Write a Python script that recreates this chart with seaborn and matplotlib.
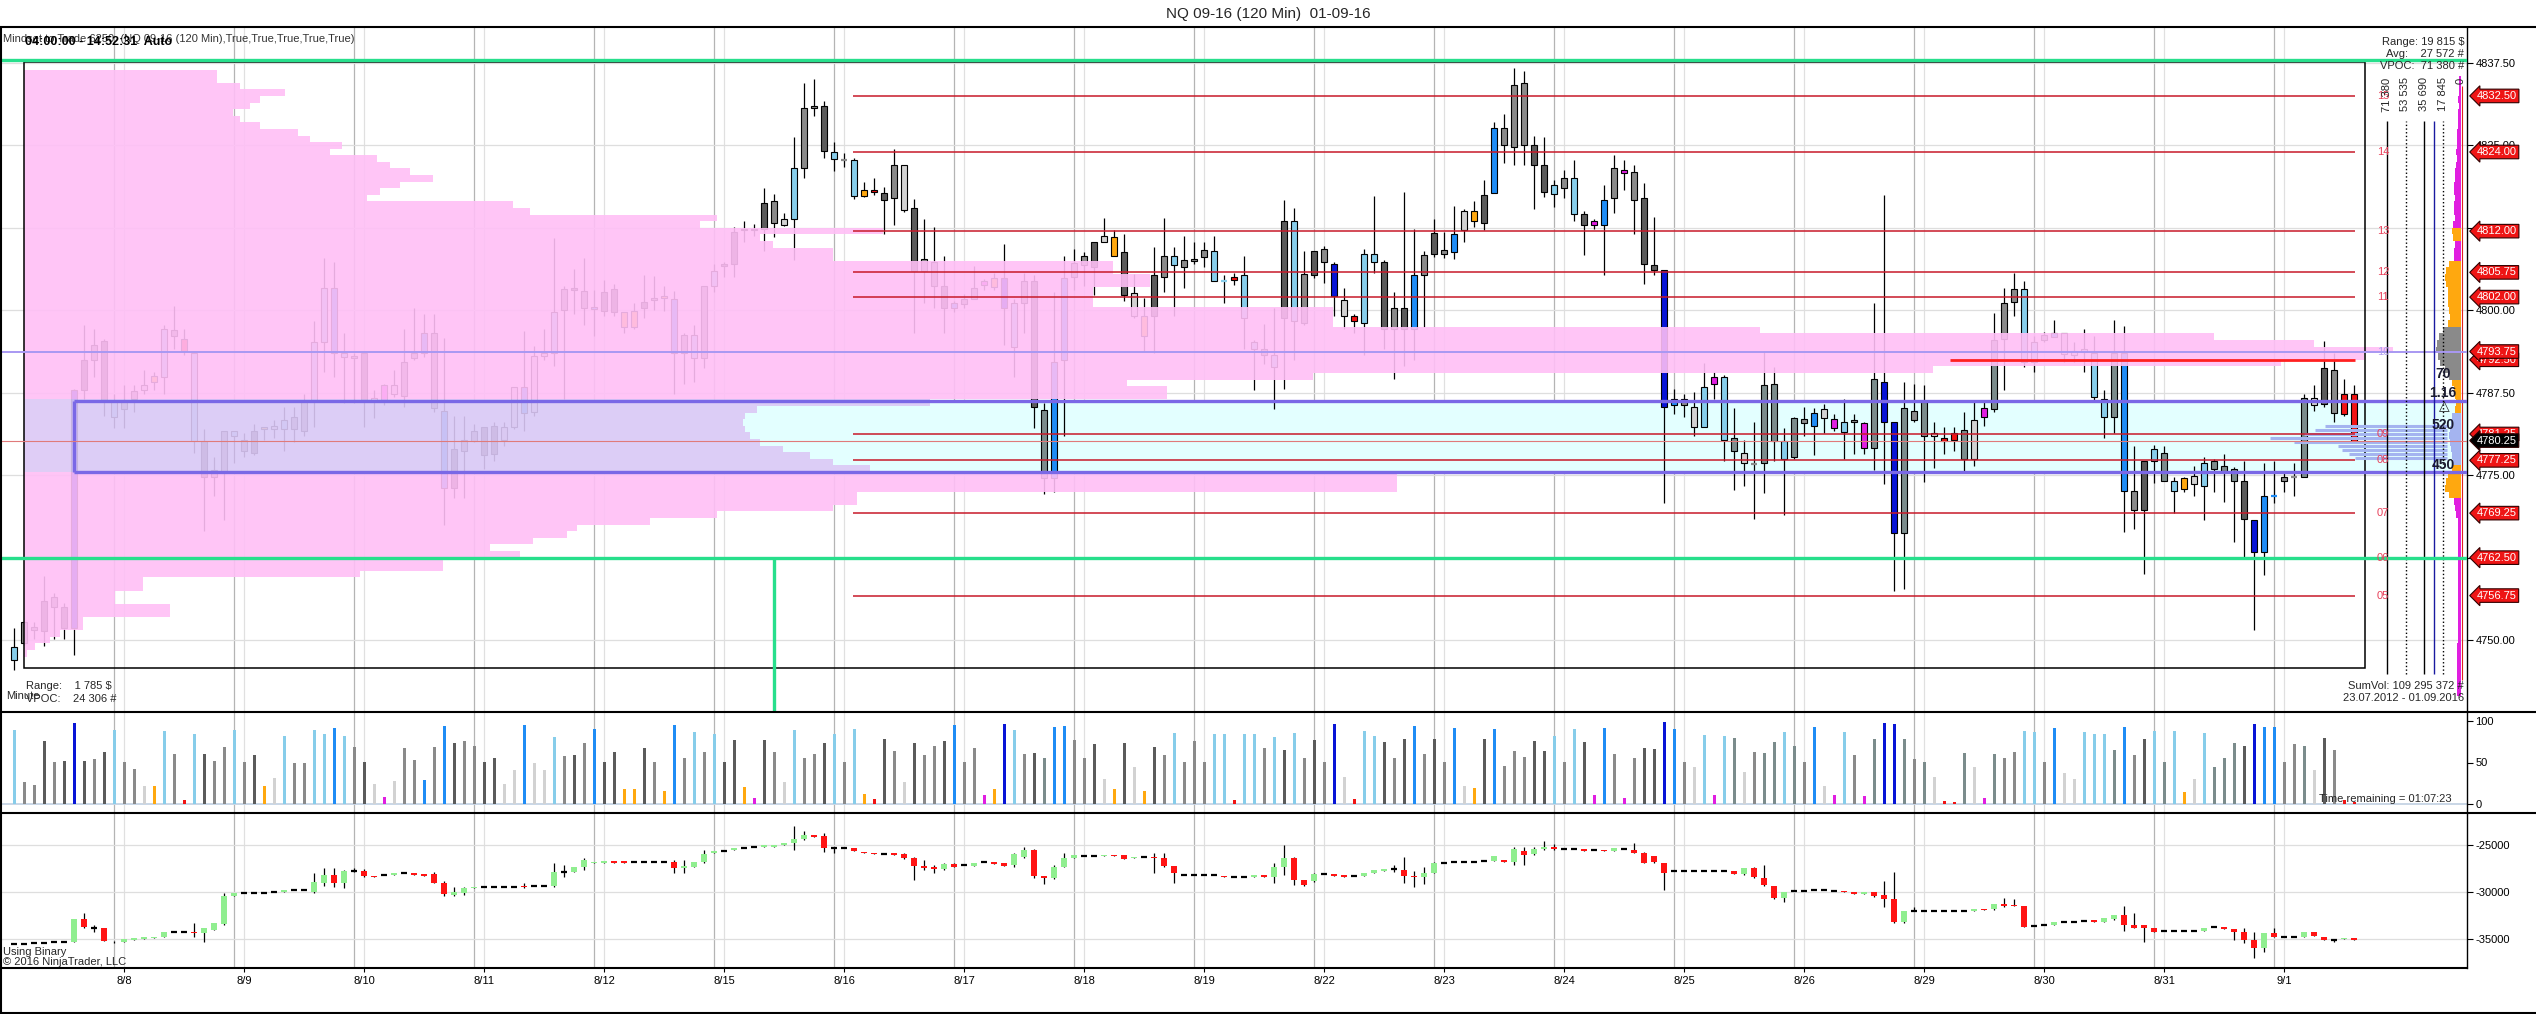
import numpy as np
import matplotlib
matplotlib.use("Agg")
import matplotlib.pyplot as plt
import seaborn as sns
from matplotlib.lines import Line2D
from matplotlib.patches import Rectangle
import matplotlib.transforms as mtrans

sns.set_theme(style="white")
plt.rcParams['font.family'] = ['Liberation Sans', 'DejaVu Sans']
plt.rcParams['axes.unicode_minus'] = False

# ---------------- data ----------------
price_open = [
4747.0,4749.5,4752.0,4751.4,4756.5,4755.0,4751.8,4787.9,4792.5,4795.3,
4786.3,4785.0,4786.6,4787.9,4789.2,4789.9,4797.0,4795.7,4793.5,4780.2,
4774.8,4775.4,4781.7,4780.4,4778.4,4782.0,4782.0,4782.0,4783.8,4781.7,
4786.3,4795.2,4803.4,4793.5,4792.7,4793.5,4786.3,4786.3,4788.7,4787.0,
4792.7,4793.5,4796.5,4784.8,4773.0,4778.7,4780.2,4782.3,4778.2,4782.3,
4782.3,4788.3,4784.6,4793.1,4793.5,4800.1,4803.1,4802.9,4800.5,4799.9,
4803.2,4799.8,4797.5,4800.4,4801.6,4802.0,4801.7,4793.5,4796.3,4792.7,
4803.7,4806.7,4807.0,4812.1,4812.4,4812.3,4816.5,4813.0,4813.8,4821.5,
4830.7,4830.9,4824.0,4822.8,4822.8,4817.3,4818.2,4817.8,4817.0,4822.0,
4815.5,4806.0,4807.3,4803.7,4800.4,4800.9,4801.7,4803.8,4803.6,4804.9,
4794.5,4801.1,4804.4,4784.9,4774.5,4792.5,4805.0,4806.9,4806.5,4810.4,
4811.1,4808.8,4802.6,4799.1,4799.1,4805.0,4808.2,4806.5,4807.5,4808.1,
4809.0,4804.4,4804.6,4805.4,4795.2,4794.2,4793.2,4798.8,4813.6,4798.1,
4805.4,4809.3,4807.0,4801.6,4799.1,4798.1,4808.5,4807.3,4797.1,4800.4,
4797.1,4805.4,4808.5,4809.2,4808.8,4812.1,4815.0,4813.2,4817.8,4827.7,
4824.7,4834.4,4825.0,4822.1,4817.7,4818.5,4820.1,4814.6,4813.0,4813.0,
4817.0,4821.3,4820.9,4817.0,4806.8,4806.1,4785.6,4786.5,4785.3,4782.3,
4788.8,4789.9,4780.6,4778.3,4776.7,4776.8,4788.8,4780.2,4777.7,4783.5,
4782.5,4785.1,4783.5,4781.6,4783.0,4782.9,4779.1,4789.1,4783.0,4766.2,
4784.8,4786.1,4780.9,4780.6,4780.4,4781.9,4777.5,4783.8,4785.0,4795.6,
4801.2,4803.3,4792.2,4795.5,4796.0,4796.5,4793.2,4793.7,4793.5,4786.5,
4783.8,4793.5,4772.6,4769.7,4777.1,4778.4,4774.1,4772.9,4773.7,4773.3,
4777.1,4776.4,4776.0,4774.1,4768.2,4763.3,4771.8,4774.1,4774.8,4774.8,
4786.7,4785.8,4791.0,4787.3,4787.3]
price_close = [
4749.0,4752.8,4751.5,4756.0,4755.0,4751.9,4787.9,4792.5,4794.8,4786.3,
4783.8,4786.4,4787.8,4788.6,4790.0,4797.1,4796.1,4793.8,4780.2,4774.8,
4775.8,4781.7,4781.0,4778.7,4781.7,4782.3,4782.5,4783.3,4782.0,4786.3,
4795.2,4803.4,4793.5,4792.9,4793.1,4786.3,4786.7,4788.6,4787.3,4792.2,
4793.5,4796.5,4785.2,4773.0,4778.9,4780.4,4781.7,4778.1,4782.5,4780.4,
4788.3,4784.5,4793.0,4793.5,4799.8,4803.2,4803.3,4800.4,4800.3,4802.7,
4799.8,4797.5,4799.9,4801.3,4801.8,4802.1,4793.5,4796.3,4792.7,4803.7,
4806.0,4806.9,4811.9,4812.4,4812.1,4816.2,4813.2,4813.8,4821.5,4830.7,
4830.9,4824.2,4822.9,4822.8,4817.3,4818.3,4818.0,4816.7,4822.1,4815.2,
4806.0,4807.8,4803.7,4800.4,4801.1,4801.7,4803.4,4804.4,4804.9,4800.3,
4801.1,4804.4,4785.3,4774.5,4792.2,4804.9,4807.2,4808.2,4810.4,4811.2,
4808.2,4802.3,4799.1,4796.1,4805.3,4808.2,4806.9,4807.7,4807.8,4809.2,
4804.4,4804.4,4805.0,4798.8,4794.2,4793.2,4791.4,4813.6,4798.4,4805.5,
4809.0,4807.3,4802.1,4799.1,4798.4,4808.5,4807.3,4797.1,4800.4,4797.1,
4805.3,4808.4,4811.7,4808.5,4811.5,4815.0,4813.6,4817.5,4827.7,4825.1,
4834.1,4825.1,4822.1,4818.0,4819.0,4820.0,4814.6,4813.0,4813.6,4816.7,
4821.5,4820.8,4816.7,4807.0,4806.1,4785.3,4786.5,4785.6,4782.3,4788.3,
4789.9,4780.4,4778.7,4776.8,4776.7,4788.6,4780.2,4777.5,4783.6,4782.9,
4784.5,4783.7,4782.2,4783.0,4783.3,4779.1,4789.6,4783.0,4766.2,4785.2,
4783.3,4781.0,4781.4,4780.2,4781.4,4777.5,4783.3,4785.2,4795.5,4801.1,
4803.3,4792.2,4795.2,4796.3,4796.5,4793.3,4793.8,4794.2,4786.8,4783.8,
4793.5,4772.6,4769.7,4777.1,4778.9,4774.1,4772.6,4774.6,4774.9,4776.9,
4776.0,4775.6,4774.1,4768.3,4763.3,4771.8,4771.8,4774.7,4774.8,4786.7,
4785.6,4791.3,4784.4,4784.3,4780.25]
price_high = [
4751.8,4753.0,4752.8,4759.7,4757.2,4755.7,4788.0,4797.8,4797.1,4795.7,
4787.3,4788.6,4788.6,4790.9,4790.6,4797.8,4800.7,4797.1,4793.5,4782.0,
4777.7,4781.7,4781.7,4781.4,4782.7,4782.3,4783.3,4785.3,4785.3,4787.3,
4798.4,4808.0,4807.3,4796.5,4793.5,4793.5,4787.9,4788.9,4790.9,4797.1,
4800.4,4799.4,4799.4,4795.8,4784.0,4784.0,4782.7,4782.3,4783.0,4783.0,
4788.3,4796.8,4794.6,4797.1,4810.9,4803.7,4806.3,4808.0,4803.1,4804.6,
4804.0,4799.8,4801.1,4805.4,4805.2,4803.7,4802.9,4796.5,4797.8,4803.7,
4807.0,4807.3,4812.6,4813.6,4813.1,4818.5,4817.7,4814.8,4826.2,4834.5,
4835.1,4831.8,4825.5,4823.8,4823.1,4819.4,4820.1,4818.7,4824.5,4822.0,
4816.9,4813.8,4812.6,4808.3,4801.4,4802.4,4806.7,4804.7,4805.7,4810.0,
4801.7,4805.7,4805.4,4786.0,4802.7,4808.2,4809.3,4808.8,4810.4,4814.0,
4812.1,4811.6,4805.5,4801.9,4809.6,4814.0,4809.6,4811.3,4810.3,4810.3,
4811.3,4805.4,4805.7,4808.2,4795.5,4797.9,4800.4,4816.7,4815.5,4809.0,
4809.0,4809.8,4807.3,4803.4,4799.4,4809.3,4817.3,4807.7,4802.7,4818.0,
4812.3,4809.0,4813.9,4811.9,4815.8,4815.3,4816.5,4819.7,4828.6,4829.7,
4836.7,4836.3,4826.5,4826.3,4819.8,4821.3,4822.8,4815.0,4813.9,4819.0,
4823.6,4822.8,4822.1,4819.3,4814.2,4806.1,4788.1,4787.3,4787.6,4792.0,
4790.6,4790.2,4785.2,4780.4,4783.0,4793.8,4791.4,4782.1,4783.8,4785.3,
4785.2,4785.8,4784.3,4786.5,4784.3,4783.1,4801.1,4817.5,4783.0,4789.1,
4788.9,4788.7,4783.0,4782.3,4782.3,4784.6,4786.3,4786.4,4799.6,4803.4,
4805.7,4804.5,4796.1,4796.7,4798.6,4796.5,4795.2,4797.1,4796.1,4787.9,
4798.6,4797.6,4779.4,4777.1,4779.6,4779.4,4774.8,4774.8,4776.4,4777.7,
4777.5,4778.2,4776.2,4777.1,4768.2,4776.8,4777.1,4775.6,4776.8,4787.3,
4788.6,4795.3,4793.5,4789.6,4788.7]
price_low = [
4745.5,4749.3,4750.1,4749.1,4750.1,4750.1,4747.8,4786.6,4789.9,4784.0,
4782.1,4782.1,4784.6,4787.3,4787.9,4787.3,4794.2,4793.2,4778.4,4766.6,
4771.8,4768.2,4776.8,4777.7,4778.1,4780.4,4780.7,4778.7,4780.0,4781.0,
4782.3,4790.6,4789.9,4786.0,4786.0,4782.3,4783.7,4785.6,4786.9,4785.3,
4792.5,4792.9,4784.6,4767.5,4771.5,4771.5,4780.0,4776.0,4777.1,4779.4,
4782.0,4781.7,4784.0,4792.5,4791.5,4786.6,4799.4,4797.8,4796.1,4799.1,
4799.1,4796.5,4797.1,4798.8,4800.1,4799.9,4787.3,4788.9,4789.2,4791.2,
4802.7,4805.0,4805.0,4810.3,4811.3,4809.0,4811.1,4812.8,4807.7,4820.0,
4829.4,4823.1,4821.1,4821.8,4816.9,4817.2,4817.5,4811.6,4812.9,4814.9,
4796.5,4801.1,4800.4,4796.5,4799.8,4800.4,4801.7,4803.1,4803.1,4794.8,
4789.9,4796.5,4782.1,4772.2,4772.5,4781.0,4803.1,4803.7,4802.3,4810.3,
4808.2,4801.4,4798.8,4793.9,4793.5,4802.7,4799.1,4803.4,4807.0,4806.5,
4804.4,4801.1,4803.8,4794.2,4787.9,4791.9,4785.0,4788.0,4792.5,4797.8,
4804.9,4804.2,4799.1,4797.1,4796.5,4793.2,4805.7,4794.2,4789.6,4791.5,
4792.5,4797.5,4808.1,4808.0,4807.8,4810.4,4812.6,4812.1,4817.8,4822.4,
4822.0,4822.0,4815.4,4817.2,4815.7,4817.0,4813.6,4808.4,4812.3,4805.4,
4814.8,4818.2,4811.6,4804.0,4805.4,4770.8,4784.3,4783.8,4781.0,4782.3,
4786.6,4777.1,4772.8,4773.3,4768.3,4772.3,4777.1,4769.0,4777.4,4781.0,
4778.1,4781.4,4781.7,4777.4,4778.2,4778.2,4775.8,4773.6,4757.4,4757.7,
4783.0,4774.0,4776.1,4778.2,4778.7,4775.6,4776.4,4782.5,4784.6,4787.9,
4799.2,4791.4,4790.6,4795.2,4795.9,4792.2,4792.2,4790.6,4786.3,4780.7,
4781.4,4766.4,4766.9,4760.0,4773.8,4774.1,4769.2,4772.5,4771.8,4768.2,
4772.5,4771.0,4764.9,4762.6,4751.6,4759.8,4770.8,4772.5,4771.8,4774.8,
4784.8,4785.3,4783.0,4784.0,4780.25]

# delta colour class of each bar (same for candle and volume bar)
bar_class = (
"lb g g dg g dg nb dg g dg "
"lb g g lg or lb g rd lb dg "
"g g lb g dg or lg lb g g "
"lb lb db lb g dg lg mg lg g "
"g db g db dg g g dg dg lg "
"lg db lg lg lb g dg g db dg "
"dg or or dg g or db g lb g "
"lb dg dg or mg dg g lg lb g "
"g dg lb g lb or rd dg g lg "
"dg g g dg db g g mg or nb "
"lb g dg sg db db g g dg lg "
"or dg lg or dg g lb g g g "
"lb lb rd lb lb g lb dg lb g "
"dg g nb lg rd lb lb dg g dg "
"db g dg g db lg or dg db g "
"g g dg dg lb g lb dg mg db "
"g mg g dg dg nb db g lg lb "
"mg lb sg lg g sg sg lb sg g "
"db lg mg lb g mg sg nb nb sg "
"g sg lg rd rd sg lg mg sg g "
"g lb lb g db lg lg lb lb lb "
"sg db g dg lb sg lb or lg lb "
"sg sg sg dg nb db db g g sg "
"lg dg g rd rd").split()

volume = [
89,26.5,23,76,51,52,97.6,52,54,63,
89,51,42,22,22,88,60,5,84,60,
52,69,89,51,59,22,31,82,49,49,
89,84,91.6,82,69,51,24,9,28,68,
53,29,69,94,73,75.5,70,51,56,24,
41,95,49,41,81,58,59,73,90,51,
63,18,18,68,51,16,95,55,87,63,
84,51,77,21,7,77,63,26.5,89,55,
60,73,84,51,90,12,6,78,64,26.5,
74,59,70,75.5,95,51,67,11,18,96,
89,60,61,55,93,94,77,55,72,30,
18,74,45,16,69,59,86,51,75.5,51,
84,84,5,84,84,68,81,65,85,55,
77,51,96,33,6,88,82,75,55,78,
94,60,78,51,92,22,19,78,90,46,
64,57,76,64,82,51,90,75,11,92,
60,7,55,68,66,99,90,51,45,83,
11,82,79.5,38.5,63,61,75,87,70,51,
93,22,11,87,59,10,78,97.6,96,78,
54,51,33,4,2.5,61,44.6,7,60,55,
63,88,87,51,92,37,30,87,84,84,
65,93,59,78,88,51,88,14,30,85.5,
44.6,55,73,70,96,93,93,51,72,70,
41,79.5,65,5,3]

N = None
cd_open = [
-35530,-35460,-35430,-35390,-35320,-35250,-35250,-32880,-33770,-33770,
-35150,-35250,-35080,-34970,-34830,-34720,-34260,-34190,-34190,-34370,
-34010,-33380,-30410,-30130,-30060,-30060,-29980,-29980,-29770,-29770,
-29950,-29070,-28180,-29070,-27720,-27720,-28290,-28220,-28220,-28000,
-28000,-28080,-28080,-29000,-30300,-30060,-29600,-29420,-29420,-29420,
-29420,-29310,-29310,-29310,-29310,-27830,-27830,-27300,-26940,-26870,
-26700,-26700,-26800,-26800,-26800,-26800,-26800,-27470,-27300,-26770,
-25880,-25600,-25530,-25350,-25250,-25250,-25180,-25000,-24820,-24400,
-23940,-24050,-25350,-25350,-25350,-25710,-25880,-25950,-25880,-25950,
-26410,-27190,-27300,-27580,-27010,-27120,-27190,-26840,-26840,-26870,
-27120,-26310,-25530,-28290,-28530,-27300,-26340,-26170,-26130,-26130,
-26020,-26100,-26410,-26240,-26240,-26340,-27190,-28180,-28180,-28180,
-28180,-28290,-28430,-28430,-28430,-28180,-28430,-27300,-26410,-28710,
-28820,-28080,-28080,-28180,-28290,-28290,-27930,-27720,-27510,-27650,
-28290,-28430,-27930,-26870,-26840,-26770,-26770,-26700,-26660,-26590,
-26770,-25600,-25950,-25460,-25250,-25420,-25460,-25460,-25530,-25530,
-25600,-25420,-25530,-25810,-26170,-26870,-27760,-27760,-27760,-27760,
-27760,-27760,-27760,-28080,-27470,-28530,-29310,-30590,-29880,-29840,
-29770,-29770,-29840,-29840,-30020,-30230,-30020,-30300,-30760,-33130,
-31960,-31960,-31960,-31960,-31960,-31960,-31960,-31790,-31820,-31260,
-31330,-31470,-33590,-33480,-33480,-33130,-33130,-33020,-32950,-33130,
-32850,-32420,-33480,-33480,-33770,-34120,-34120,-34120,-34120,-34120,
-33730,-33730,-33910,-34260,-35080,-35890,-34370,-34790,-34790,-34790,
-34260,-34790,-35080,-35000,-34900]
cd_close = [
-35530,-35460,-35430,-35390,-35320,-35250,-32880,-33660,-33770,-35150,
-35180,-35000,-34900,-34790,-34720,-34260,-34260,-34190,-34370,-33840,
-33240,-30410,-30130,-30130,-30060,-30060,-29980,-29770,-29770,-29770,
-28890,-28180,-29070,-27720,-27720,-28290,-28360,-28220,-28000,-28000,
-28220,-28290,-29000,-30230,-29950,-29600,-29420,-29420,-29420,-29420,
-29420,-29490,-29310,-29310,-27830,-27830,-27300,-26590,-26770,-26660,
-26870,-26870,-26800,-26800,-26800,-26800,-27470,-27230,-26770,-25950,
-25600,-25600,-25350,-25350,-25250,-25000,-25000,-24820,-24400,-23940,
-24120,-25350,-25350,-25350,-25600,-25880,-25950,-25950,-26060,-26410,
-27190,-27470,-27580,-27010,-27300,-27120,-26940,-26840,-27010,-27190,
-25950,-25530,-28290,-28530,-27300,-26340,-26100,-26170,-26130,-26020,
-26170,-26450,-26240,-26240,-26340,-27190,-28000,-28180,-28180,-28180,
-28180,-28430,-28430,-28430,-28180,-28430,-27300,-26410,-28710,-29240,
-28110,-28080,-28290,-28360,-28290,-27930,-27650,-27510,-27510,-28290,
-28430,-27930,-26940,-26870,-26840,-26770,-26770,-26700,-26170,-26770,
-25460,-26060,-25460,-25250,-25460,-25420,-25460,-25600,-25530,-25640,
-25350,-25420,-25810,-26870,-26800,-27930,-27760,-27760,-27760,-27760,
-27760,-27760,-28080,-27470,-28360,-29240,-30590,-29950,-29880,-29840,
-29770,-29770,-29840,-30020,-30230,-30020,-30410,-30760,-33130,-31960,
-31960,-31960,-31960,-31960,-31960,-31960,-31790,-31890,-31260,-31430,
-31470,-33660,-33590,-33480,-33200,-33130,-33130,-33020,-33130,-32780,
-32420,-33480,-33770,-33840,-34190,-34120,-34120,-34120,-34120,-33770,
-33730,-33910,-34260,-35080,-35890,-34370,-34790,-34790,-34790,-34260,
-34650,-35080,-35080,-34900,-35080]
cd_high = [N]*7 + [-32250,-33480] + [N]*9 + [-33240,N,N,-30130] + [N]*8 + \
    [-28000,-27470,-27470,-27650,-27470,-27580] + [N]*6 + [-27830,-28820,-29420,-29420] + [N]*5 + \
    [-29070,N,N,-26940,-27120,N,-26410] + [N]*8 + [-26590,-26590,N,-25530] + [N]*8 + \
    [-22980,-23520,N,-23760,-25180] + [N]*6 + [-25880,-26240,-26590,-27120,-26940,-26870] + [N]*5 + \
    [-25880,-25180,-25460,N,-27120,-25880] + [N]*8 + [-25880,-25880] + [N]*10 + \
    [-26940,-25000,-26240,N,-28000] + [N]*7 + [-27120,-26310,-27720,-27300,-26770] + [N]*7 + \
    [-25180,-25180,-25180,-24540,-24890] + [N]*7 + [-24820,-25710] + [N]*10 + [-27300,-27120,N,N,-29770] + \
    [N]*8 + [-28820,-27830,N,-31540] + [N]*7 + [-31540,-30660,-30760] + [N]*10 + [-31470,-32250] + \
    [N]*10 + [-33840,-34190,N,-33840] + [N]*6 + [-34900,N,N]
cd_low = [N]*7 + [-33840,-34190,N,-35430] + [N]*7 + [-34790,-35250,N,-33480] + [N]*8 + \
    [-30130,-29350,-29420,-29600,-27830,-28360] + [N]*6 + [-29070,-30410,-30410,-30300] + [N]*5 + \
    [-29600,N,N,-29420,-28360,N,-27650] + [N]*8 + [-28000,-28000,N,-26940] + [N]*8 + \
    [-25530,-24470,N,-25710,-25810] + [N]*6 + [-26520,-28710,-27650,-27930,-27650,-27370] + [N]*5 + \
    [-27300,-26410,-28460,-29140,-28640] + [N]*9 + [-27930,-27300,-29000] + [N]*9 + \
    [-29070,-28180,-29240,-29350,-28890] + [N]*7 + [-27830,-29070,-29420,-29140,-28000] + [N]*7 + \
    [-27120,-27120,-26060,-25530,-25530] + [N]*7 + [-25880,-26940,-26940,-29770] + [N]*7 + \
    [-28180,-28530,-29350,-30730,-31010] + [N]*8 + [-30480,-31540,-33240,-33310] + [N]*8 + \
    [-31890,-31540] + [N]*10 + [-32950,-34080,N,-35250] + [N]*8 + [-35080,-35430,-37020,-36310] + \
    [N]*6 + [-35250,N,N]

# composite volume profile (price level -> contracts)
prof_price = list(range(4748, 4837))
prof_vol = [90,331,783,1085,1778,1778,4399,4399,2742,2742,
            3585,3585,10124,12624,12624,14944,14041,15336,16360,16662,
            18861,20880,24375,25098,25098,41368,41368,41368,25490,24375,
            23682,22869,22176,21874,21724,21663,21724,22085,27298,34438,
            34438,33233,38837,57518,68000,70500,71380,69000,66000,52306,
            39440,39440,39440,32209,32209,32209,33926,33926,32812,32812,
            24375,24375,22567,22176,25882,20368,20880,15246,14734,10335,
            10726,11329,12323,11630,11028,10636,9220,9581,8617,8256,
            7111,6508,6297,6809,7111,7864,6508,5815,5815]
va_low, va_high, vpoc = 4775.5, 4786.25, 4793.75

# last session profile (right side), price levels 4742..4835
rp_price = list(range(4742, 4836))
rp_vol = ([4000]*8 + [3000]*19 +
          [5000,6000,7000] +
          [12000,15000,14000,13000,9000] +
          [8000,9000,10000,11000,12000,11000,10000,9000] +
          [6000,5000,6000,7000,9000] +
          [12000,15000,20000,22000,24000,23000,21000,17000] +
          [13000,11000,12000,13000,12500,13000,14000,15000,14000,12000] +
          [7000,6500,6000] +
          [8000,9000] +
          [7500,6000,7000,6500,6000,7000,6500,6000,5500,5000,4000,4500,3500,4000,
           3500,3000,3000,2500,2000,2500,2000,1500,1500])
rp_cls = (["mg"]*27 + ["mg"]*3 + ["or"]*5 + ["lbp"]*8 + ["or"]*5 + ["g"]*8 +
          ["or"]*10 + ["mg"]*3 + ["or"]*2 + ["mg"]*23)
sess_price = [4782.5, 4781.9, 4781.3, 4780.6, 4780.0, 4779.4, 4778.8, 4778.2, 4777.6]
sess_start = [231.1, 230.1, 229.0, 225.6, 228.0, 232.4, 232.8, 233.5, 234.1]
scale_vals = [71380, 53535, 35690, 17845, 0]
scale_txt = ["71 380", "53 535", "35 690", "17 845", "0"]

sr_prices = [4832.5, 4824.0, 4812.0, 4805.75, 4802.0, 4781.25, 4777.25, 4769.25, 4756.75]
sr_names = ["15", "14", "13", "12", "11", "09", "08", "07", "05"]
tag_prices = [4832.50, 4824.00, 4812.00, 4805.75, 4802.00, 4792.50, 4793.75,
              4781.25, 4780.25, 4777.25, 4769.25, 4762.50, 4756.75]
last_price = 4780.25

day_labels = ['8/8','8/9','8/10','8/11','8/12','8/15','8/16','8/17','8/18','8/19',
              '8/22','8/23','8/24','8/25','8/26','8/29','8/30','8/31','9/1']
day_first_bar = [11,23,35,47,59,71,83,95,107,119,131,143,155,167,179,191,203,215,227]

# ---------------- styling ----------------
cmap = {'dg':'#5b5b5b','g':'#8a8a8a','lg':'#d2d2d2','lb':'#87cdea','db':'#1f8cf5',
        'nb':'#0814d6','or':'#ffa80f','mg':'#e01ee0','rd':'#f01414','sg':'#7b8c8c',
        'lbp':'#a4b4f0'}
bar_colors = [cmap[k] for k in bar_class]

W, H = 2536, 1014
fig = plt.figure(figsize=(W/100, H/100), dpi=100, facecolor='white')
def fxp(px): return px / W
def fyp(py): return 1 - py / H

L, R = 1, 2467
ax = fig.add_axes([fxp(L), fyp(712), (R-L)/W, (712-27)/H])
axv = fig.add_axes([fxp(L), fyp(813), (R-L)/W, (813-712)/H], sharex=ax)
axd = fig.add_axes([fxp(L), fyp(968), (R-L)/W, (968-813)/H], sharex=ax)
n = len(price_open)
x = np.arange(n)
XL = (-1.3, 245.3)

for a in (ax, axv, axd):
    a.set_facecolor('white')
    for s in ('top', 'left', 'bottom'):
        a.spines[s].set_visible(False)
    a.spines['right'].set_color('black')
    a.spines['right'].set_linewidth(1.0)
    a.yaxis.tick_right()
    a.tick_params(axis='y', right=True, length=4, width=0.8, pad=2, labelsize=8,
                  colors='black', direction='out')
    for d in day_first_bar:
        a.axvline(d - 1, color='#b4b4b4', lw=0.9, zorder=0.5)
        a.axvline(d, color='#e0e0e0', lw=0.9, zorder=0.5)
    a.set_xlim(*XL)

# ---- main price panel ----
ax.set_ylim(4739.1, 4842.95)
yt = [4750, 4762.5, 4775, 4787.5, 4800, 4812.5, 4825, 4837.5]
ax.set_yticks(yt)
ax.set_yticklabels([f"{v:.2f}" for v in yt])
ax.grid(axis='y', color='#dedede', lw=0.9, zorder=0.4)
ax.grid(axis='x', visible=False)
ax.tick_params(axis='x', bottom=False, labelbottom=False)

# value area box
ax.add_patch(Rectangle((6, va_low), XL[1] - 6, va_high - va_low, fc='#e3ffff', ec='none', zorder=1))

def draw_candles(a, o, h, l, c, cols, width, z, minh, edge='black', elw=0.8, doji_col=None, wick='black'):
    o = np.asarray(o, float); c = np.asarray(c, float)
    h = np.asarray(h, float); l = np.asarray(l, float)
    xs = np.arange(len(o))
    a.vlines(xs, l, h, colors=wick, lw=0.9, zorder=z)
    lo = np.minimum(o, c); hi = np.maximum(o, c)
    body = hi - lo
    isb = body > 0
    hb = np.maximum(body, minh)
    bot = (lo + hi) / 2 - hb / 2
    cols = np.array(cols, dtype=object)
    a.bar(xs[isb], hb[isb], bottom=bot[isb], width=width, color=list(cols[isb]),
          edgecolor=edge if edge else list(cols[isb]), linewidth=elw, zorder=z + 0.1)
    dc = list(cols[~isb]) if doji_col is None else doji_col
    a.hlines(o[~isb], xs[~isb] - width / 2, xs[~isb] + width / 2, colors=dc, lw=1.6, zorder=z + 0.2)

draw_candles(ax, price_open, price_high, price_low, price_close, bar_colors, 0.62, 3, 0.3)

# composite profile drawn over the candles
pp = np.array(prof_price, float)
pv = np.array(prof_vol, float)
prof_cols = ['#dcc8f6' if va_low <= p <= va_high else '#ffbff6' for p in pp]
ax.barh(pp, pv * (236.9 / max(prof_vol)), left=1.0, height=1.0, color=prof_cols,
        alpha=0.9, linewidth=0, zorder=4)
ax.add_patch(Rectangle((1.0, 4745.8), 234.1, 91.8, fill=False, ec='black', lw=1.1, zorder=5))

# lines
ax.hlines([va_high, va_low], 6, XL[1], colors='#7a68e6', lw=2.4, zorder=6)
ax.vlines(6, va_low, va_high, colors='#7a68e6', lw=2.4, zorder=6)
ax.axhline(vpoc, color='#a898f2', lw=1.4, zorder=6)
ax.axhline(last_price, color='#e07a7a', lw=0.8, zorder=6)
ax.hlines(sr_prices, 83.9, 234.05, colors='#c81a2a', lw=1.1, zorder=6)
ax.hlines(4792.5, 193.6, 234.05, colors='#ff2020', lw=2.0, zorder=6)
ax.axhline(4838.0, color='#27df8c', lw=2.4, zorder=7)
ax.axhline(4762.5, color='#27df8c', lw=2.4, zorder=7)
ax.vlines(76, 4739.1, 4762.5, colors='#27df8c', lw=2.4, zorder=7)

for p, nm in zip(sr_prices + [vpoc, 4762.5], sr_names + ["10", "06"]):
    ax.text(236.3, p, nm, color='#e8405a' if nm != "10" else '#b0a0f0', fontsize=8,
            va='center', ha='left', zorder=8)

# right-side session profile and scale
sc = 7.4 / 71380
rpv = np.array(rp_vol, float) * sc
ax.barh(rp_price, rpv, left=244.7 - rpv, height=1.0, color=[cmap[k] for k in rp_cls],
        linewidth=0, zorder=5)
ax.hlines(sess_price, sess_start, 243.3, colors='#a4b4f0', lw=2.2, zorder=5)
ax.vlines(244.75, 4744, 4834, colors='#e02020', lw=0.8, zorder=5)
for v, t, ls in zip(scale_vals, scale_txt, ['-', ':', '-', ':', None]):
    xv = 244.7 - v * sc
    if ls:
        ax.vlines(xv, 4744.9, 4828.7, colors='black', lw=1.0, linestyles=ls, zorder=6)
    ax.text(xv, 4835.3, t, rotation=90, va='top', ha='center', fontsize=8, zorder=8)
ax.vlines(242.0, 4744.9, 4828.7, colors='#1a1aa0', lw=1.0, zorder=6)
ax.text(243.0, 4785.4, "\u25b3", fontsize=10, ha='center', va='center', zorder=9)
for yv, t in [(4790.3, "70"), (4787.4, "1.16"), (4782.6, "520"), (4776.6, "450")]:
    ax.text(242.9, yv, t, fontsize=10, weight='bold', color='#1b1b30', ha='center',
            va='center', zorder=9)

# price tags
trans = mtrans.blended_transform_factory(ax.transAxes, ax.transData)
for p in tag_prices:
    fc = 'black' if p == last_price else '#ee1515'
    ax.text(1.0 + 10 / (R - L), p, f"{p:.2f}", transform=trans, ha='left', va='center',
            fontsize=8, color='white', zorder=30, clip_on=False,
            bbox=dict(boxstyle='larrow,pad=0.16', fc=fc, ec='#300000', lw=0.8))

# ---- volume panel ----
axv.set_ylim(-10.8, 110.8)
axv.set_yticks([0, 50, 100])
axv.tick_params(axis='x', bottom=False, labelbottom=False)
axv.axhline(0, color='#c9d6e6', lw=1.4, zorder=1)
axv.bar(x, volume, width=0.3, color=bar_colors, linewidth=0, zorder=3)

# ---- cumulative delta panel ----
axd.set_ylim(-38040, -21610)
axd.set_yticks([-35000, -30000, -25000])
axd.set_yticklabels(["-35000", "-30000", "-25000"])
axd.grid(axis='y', color='#dedede', lw=0.9, zorder=0.4)
axd.spines['bottom'].set_visible(True)
axd.spines['bottom'].set_color('black')
axd.spines['bottom'].set_linewidth(1.5)
co = np.array(cd_open, float); cc = np.array(cd_close, float)
chi = np.array([max(o, c) if h is None else h for o, c, h in zip(cd_open, cd_close, cd_high)], float)
clo = np.array([min(o, c) if l is None else l for o, c, l in zip(cd_open, cd_close, cd_low)], float)
cd_cols = ['#90ee90' if c > o else ('#ff1414' if c < o else 'black') for o, c in zip(cd_open, cd_close)]
draw_candles(axd, co, chi, clo, cc, cd_cols, 0.6, 3, 60, edge=None, elw=0, doji_col='black')
axd.set_xticks(day_first_bar)
axd.set_xticklabels(day_labels)
axd.tick_params(axis='x', bottom=True, length=3, width=0.8, labelsize=8, pad=3, colors='black')

# ---- frame lines ----
for py in (27, 712, 813, 1013):
    fig.add_artist(Line2D([0, 1], [fyp(py)] * 2, transform=fig.transFigure, color='black', lw=1.5))
fig.add_artist(Line2D([fxp(0.6)] * 2, [fyp(27), fyp(1013)], transform=fig.transFigure, color='black', lw=1.5))

# ---- texts ----
fig.text(0.5, fyp(14), "NQ 09-16 (120 Min)  01-09-16", ha='center', va='center', fontsize=11)
fig.text(fxp(3), fyp(39), "Mindset to Trade 6250  (NQ 09-16 (120 Min),True,True,True,True,True)",
         ha='left', va='center', fontsize=8, color='#333333')
fig.text(fxp(25), fyp(42), "04:00:00 - 14:52:31  Auto", ha='left', va='center', fontsize=9,
         weight='bold', color='black')
for yy, t in [(42, "Range: 19 815 $"), (54, "Avg:    27 572 #"), (66, "VPOC:  71 380 #")]:
    fig.text(fxp(2464), fyp(yy), t, ha='right', va='center', fontsize=8)
for yy, t in [(686, "SumVol: 109 295 372 #"), (698, "23.07.2012 - 01.09.2016")]:
    fig.text(fxp(2464), fyp(yy), t, ha='right', va='center', fontsize=8)
fig.text(fxp(26), fyp(686), "Range:    1 785 $", ha='left', va='center', fontsize=8)
fig.text(fxp(26), fyp(699), "VPOC:    24 306 #", ha='left', va='center', fontsize=8)
fig.text(fxp(6), fyp(696), "Minute", ha='left', va='center', fontsize=8)
fig.text(fxp(2452), fyp(799), "Time remaining = 01:07:23", ha='right', va='center', fontsize=8)
fig.text(fxp(3), fyp(952), "Using Binary", ha='left', va='center', fontsize=8)
fig.text(fxp(3), fyp(962), "\u00a9 2016 NinjaTrader, LLC", ha='left', va='center', fontsize=8)

fig.savefig("out.png", dpi=100, facecolor='white')
